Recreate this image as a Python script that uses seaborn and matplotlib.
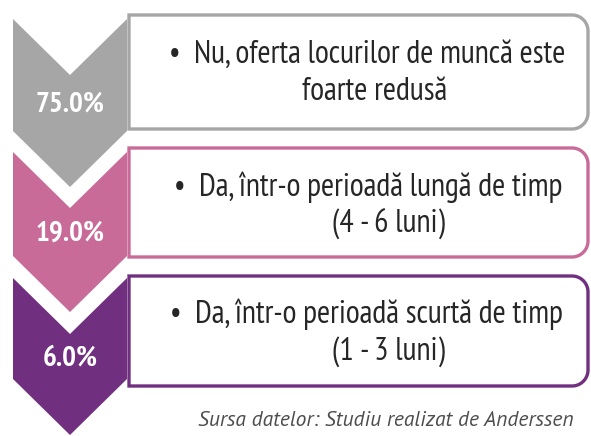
import numpy as np
import matplotlib
matplotlib.use("Agg")
import matplotlib.pyplot as plt
import seaborn as sns
from matplotlib.patches import Polygon

# ---- data ----
percentages = [75.0, 19.0, 6.0]
answers_line1 = ["Nu, oferta locurilor de muncă este",
                 "Da, într-o perioadă lungă de timp",
                 "Da, într-o perioadă scurtă de timp"]
answers_line2 = ["foarte redusă", "(4 - 6 luni)", "(1 - 3 luni)"]
colors = ["#A6A6A6", "#C86B98", "#70307F"]
source = "Sursa datelor: Studiu realizat de Anderssen"

sns.set_theme(style="white")
plt.rcParams['font.family'] = ['PT Sans Narrow', 'DejaVu Sans']

fig = plt.figure(figsize=(5.91, 4.36), dpi=100)
ax = fig.add_axes([0, 0, 1, 1])
ax.set_xlim(0, 591)
ax.set_ylim(436, 0)
ax.axis("off")

# layout (pixels)
chev_top = [19, 152, 278]
chev_side_bottom = [131, 256, 379]
box_top = [15, 148, 276]
box_bot = [129, 257, 386]
line1_base = [63, 196, 323]
line2_base = [100, 233, 360]
line1_cx = [367, 368, 366]
line2_cx = [375, 388, 388]
xl, xr = 13, 127
xm = (xl + xr) / 2
d = 56
bx0, bx1 = 129, 588
rad = 16

def box_path(x0, x1, y0, y1, r):
    pts = [(x0, y0), (x1 - r, y0)]
    th = np.linspace(-np.pi / 2, 0, 20)
    pts += [(x1 - r + r * np.cos(t), y0 + r + r * np.sin(t)) for t in th]
    th = np.linspace(0, np.pi / 2, 20)
    pts += [(x1 - r + r * np.cos(t), y1 - r + r * np.sin(t)) for t in th]
    pts += [(x0, y1)]
    return pts

for i, pct in enumerate(percentages):
    y0, y1 = chev_top[i], chev_side_bottom[i]
    chev = [(xl, y0), (xm, y0 + d), (xr, y0), (xr, y1), (xm, y1 + d), (xl, y1)]
    ax.add_patch(Polygon(chev, closed=True, facecolor=colors[i], edgecolor="none", zorder=2))
    ax.add_patch(Polygon(box_path(bx0, bx1, box_top[i], box_bot[i], rad), closed=True,
                         facecolor="white", edgecolor=colors[i], linewidth=2.4, zorder=3,
                         joinstyle="miter"))
    ax.text(xm, (y0 + d + y1) / 2 + 2, f"{pct:.1f}%", ha="center", va="center",
            color="white", fontsize=21, fontweight="bold", zorder=4)
    ax.text(line1_cx[i], line1_base[i], "•  " + answers_line1[i], ha="center", va="baseline",
            color="#262626", fontsize=23, zorder=4)
    ax.text(line2_cx[i], line2_base[i], answers_line2[i], ha="center", va="baseline",
            color="#262626", fontsize=23, zorder=4)

ax.text(574, 420, source, ha="right", va="center", fontsize=15.5, style="italic",
        color="#4D4D4D", family=["PT Sans", "DejaVu Sans"])

fig.savefig("out.png", dpi=100)
